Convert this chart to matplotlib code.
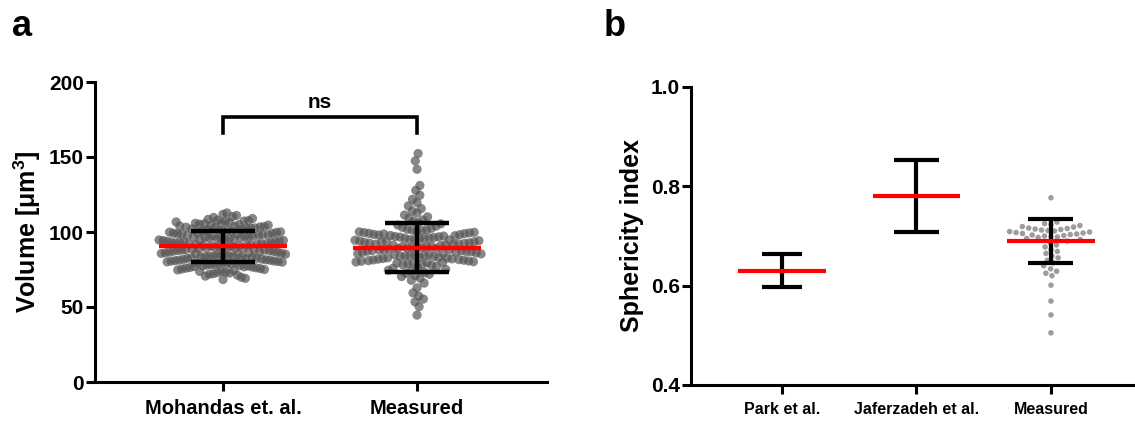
import numpy as np
import matplotlib
matplotlib.use("Agg")
import matplotlib.pyplot as plt

plt.rcParams['font.family'] = ['Liberation Sans', 'DejaVu Sans']
plt.rcParams['font.weight'] = 'bold'
plt.rcParams['mathtext.fontset'] = 'custom'
plt.rcParams['mathtext.rm'] = 'Liberation Sans:bold'
plt.rcParams['mathtext.bf'] = 'Liberation Sans:bold'
plt.rcParams['mathtext.it'] = 'Liberation Sans:bold'

# --- panel a: cell volume ---
vol_groups = ["Mohandas et. al.", "Measured"]
vol_means = [90.5, 89.5]
vol_sds = [10.3, 16.2]

vol_mohandas = [
    68.3, 69.1, 69.8, 70.6, 71.2, 71.9,
    72.2, 72.6, 73.0, 73.3, 73.7, 74.0, 74.4, 74.7, 75.0, 75.3, 75.6, 75.9,
    76.1, 76.3, 76.6, 76.8, 77.0, 77.3, 77.5, 77.7, 78.0, 78.2, 78.4, 78.7,
    78.9, 79.1, 79.3, 79.5, 79.7, 79.9,
    80.1, 80.3, 80.6, 80.7, 80.9, 81.2, 81.3, 81.5, 81.8, 81.9, 82.1, 82.4,
    82.5, 82.7, 83.0, 83.1, 83.3, 83.6, 83.7, 83.9,
    84.0, 84.3, 84.4, 84.7, 84.8, 85.1, 85.2, 85.5, 85.7, 85.8, 86.1, 86.2,
    86.5, 86.6, 86.9, 87.1, 87.2, 87.5, 87.7, 87.9,
    88.0, 88.2, 88.5, 88.6, 88.8, 89.1, 89.3, 89.4, 89.7, 89.9, 90.0, 90.3,
    90.4, 90.7, 90.9, 91.0, 91.3, 91.5, 91.6, 91.9,
    92.1, 92.2, 92.5, 92.7, 92.8, 93.1, 93.2, 93.5, 93.7, 93.8, 94.1, 94.3,
    94.4, 94.7, 94.8, 95.1, 95.3, 95.4, 95.7, 95.9,
    96.0, 96.3, 96.5, 96.6, 96.9, 97.0, 97.3, 97.5, 97.6, 97.9, 98.1, 98.2,
    98.5, 98.7, 98.8, 99.1, 99.2, 99.5, 99.7, 99.9,
    100.1, 100.4, 100.6, 100.8, 101.1, 101.3, 101.5, 101.8, 102.0, 102.2,
    102.5, 102.7, 102.9, 103.2, 103.4, 103.6, 103.8, 104.0,
    104.3, 104.6, 104.9, 105.2, 105.5, 105.8, 106.1, 106.4, 106.7, 107.0,
    107.3, 107.6, 107.9,
    108.4, 109.0, 109.7, 110.3, 111.0, 111.8, 112.7,
]

vol_measured = [
    44.6, 50.2, 53.4, 55.3, 57.2, 59.4, 62.8, 65.9, 67.8, 69.2,
    70.3, 71.0, 71.8, 72.4, 73.1, 73.8, 74.5, 75.1, 75.8, 76.5, 77.1, 77.7,
    78.1, 78.4, 78.8, 79.1, 79.5, 79.8, 80.2, 80.5, 80.9, 81.2, 81.6, 81.9,
    82.3, 82.6, 83.0, 83.3, 83.7, 84.0, 84.4, 84.7, 85.1, 85.4, 85.8, 86.1,
    86.5, 86.8, 87.2, 87.5, 87.9, 88.2, 88.6, 88.9, 89.3, 89.6, 90.0, 90.3,
    90.7, 91.0, 91.4, 91.7, 92.1, 92.4, 92.8, 93.1, 93.5, 93.8, 94.2, 94.5,
    94.9, 95.2, 95.6, 95.9, 96.3, 96.6, 97.0, 97.3, 97.7, 98.0, 98.4, 98.7,
    99.1, 99.4, 99.8, 100.1, 100.5, 100.8, 101.2, 101.5, 101.9,
    79.3, 80.0, 80.7, 81.4, 82.1, 82.8, 83.5, 84.2, 84.9, 85.6, 86.3, 87.0,
    87.7, 88.4, 89.1, 89.8, 90.5, 91.2, 91.9, 92.6, 93.3, 94.0, 94.7, 95.4,
    96.1, 96.8, 97.5, 98.2, 98.9, 99.6,
    102.4, 103.1, 103.9, 104.6, 105.4, 106.2, 107.1, 108.0, 109.0, 110.1,
    111.3, 112.6, 114.0, 115.6,
    117.4, 119.6, 121.8, 124.5, 127.8, 131.0, 141.8, 147.4, 152.3,
]

# --- panel b: sphericity index ---
sph_groups = ["Park et al.", "Jaferzadeh et al.", "Measured"]
sph_means = [0.630, 0.781, 0.690]
sph_sds = [0.033, 0.072, 0.045]

sph_measured = [
    0.777,
    0.728, 0.725, 0.723, 0.721, 0.719, 0.718, 0.716, 0.715, 0.714, 0.713,
    0.712, 0.711, 0.710, 0.709, 0.708, 0.707, 0.706, 0.705, 0.704, 0.703,
    0.702, 0.701, 0.700, 0.699, 0.698, 0.697, 0.695, 0.693, 0.690, 0.686,
    0.682, 0.678, 0.673, 0.669, 0.665, 0.660, 0.656, 0.651, 0.646, 0.640,
    0.634, 0.629, 0.625, 0.620, 0.601, 0.569, 0.541, 0.505,
]

RED = '#ff0000'


def swarm(ax, x0, values, diam_px, half_px):
    """beeswarm offsets (center-out), squeezed to fit half_px, returned in data units"""
    fig = ax.figure
    fig.canvas.draw()
    vals = np.asarray(values, dtype=float)
    ypx = ax.transData.transform(np.column_stack([np.full(len(vals), x0), vals]))[:, 1]
    order = np.argsort(np.abs(ypx - np.median(ypx)), kind='stable')
    placed_x, placed_y = [], []
    xs = np.zeros(len(vals))
    for i in order:
        y = ypx[i]
        cands = [0.0]
        for px, py in zip(placed_x, placed_y):
            dy = abs(py - y)
            if dy < diam_px:
                dx = np.sqrt(diam_px ** 2 - dy ** 2)
                cands += [px - dx, px + dx]
        cands = sorted(cands, key=abs)
        for c in cands:
            ok = True
            for px, py in zip(placed_x, placed_y):
                if (px - c) ** 2 + (py - y) ** 2 < diam_px ** 2 - 1e-6:
                    ok = False
                    break
            if ok:
                xs[i] = c
                break
        placed_x.append(xs[i])
        placed_y.append(y)
    m = np.abs(xs).max()
    if m > half_px:
        xs = xs * half_px / m
    # pixels -> data units along x
    p0 = ax.transData.transform((x0, 0))[0]
    p1 = ax.transData.transform((x0 + 1, 0))[0]
    return x0 + xs / (p1 - p0)


def mean_sd(ax, x, mean, sd, red_w, cap_w, lw):
    ax.vlines(x, mean - sd, mean + sd, color='black', lw=lw, zorder=4)
    ax.hlines([mean - sd, mean + sd], x - cap_w / 2, x + cap_w / 2, color='black', lw=lw, zorder=4)
    ax.hlines(mean, x - red_w / 2, x + red_w / 2, color=RED, lw=lw, zorder=5)


def style(ax):
    for s in ['top', 'right']:
        ax.spines[s].set_visible(False)
    for s in ['left', 'bottom']:
        ax.spines[s].set_linewidth(2.2)
    ax.tick_params(width=2.2, length=6.5)
    ax.tick_params(axis='y', pad=1.5, labelsize=15)
    ax.tick_params(axis='x', pad=6)


fig = plt.figure(figsize=(11.35, 4.23), dpi=100)
W, H = 1135, 423
ax_a = fig.add_axes([95 / W, (H - 382) / H, (547 - 95) / W, (382 - 82) / H])
ax_b = fig.add_axes([691 / W, (H - 385) / H, (1135 - 691) / W, (385 - 87) / H])

# panel a
ax_a.set_xlim(-0.66, 1.67)
ax_a.set_ylim(0, 200)
style(ax_a)
ax_a.set_yticks([0, 50, 100, 150, 200])
ax_a.set_xticks([0, 1])
ax_a.set_xticklabels(vol_groups, fontsize=14.5, fontweight='bold')
ax_a.set_ylabel('Volume [μm$^{3}$]', fontsize=18, fontweight='bold', labelpad=4)

for i, vals in enumerate([vol_mohandas, vol_measured]):
    xs = swarm(ax_a, i, vals, 9.0, 64)
    ax_a.scatter(xs, vals, s=44, color='#555555', alpha=0.7, edgecolors='none', zorder=2)
    mean_sd(ax_a, i, vol_means[i], vol_sds[i], 0.66, 0.33, 3.2)

# ns bracket
ax_a.plot([0, 0, 1, 1], [166, 176.5, 176.5, 166], color='black', lw=2.6, solid_joinstyle='miter')
ax_a.text(0.5, 180, 'ns', ha='center', va='bottom', fontsize=15, fontweight='bold')

# panel b
ax_b.set_xlim(-0.677, 2.625)
ax_b.set_ylim(0.4, 1.0)
style(ax_b)
ax_b.set_yticks([0.4, 0.6, 0.8, 1.0])
ax_b.set_yticklabels(['0.4', '0.6', '0.8', '1.0'])
ax_b.set_xticks([0, 1, 2])
ax_b.set_xticklabels(sph_groups, fontsize=11.5, fontweight='bold')
ax_b.set_ylabel('Sphericity index', fontsize=18, fontweight='bold', labelpad=5)

xs = swarm(ax_b, 2, sph_measured, 6.5, 43)
ax_b.scatter(xs, sph_measured, s=16, color='#8c8c8c', alpha=0.85, edgecolors='none', zorder=2)
cap_ws = [0.3, 0.335, 0.335]
for i in range(3):
    mean_sd(ax_b, i, sph_means[i], sph_sds[i], 0.654, cap_ws[i], 3.0)

fig.text(12 / W, 1 - 36 / H, 'a', fontsize=26, fontweight='bold')
fig.text(604 / W, 1 - 36 / H, 'b', fontsize=26, fontweight='bold')

fig.savefig('out.png', dpi=100)
